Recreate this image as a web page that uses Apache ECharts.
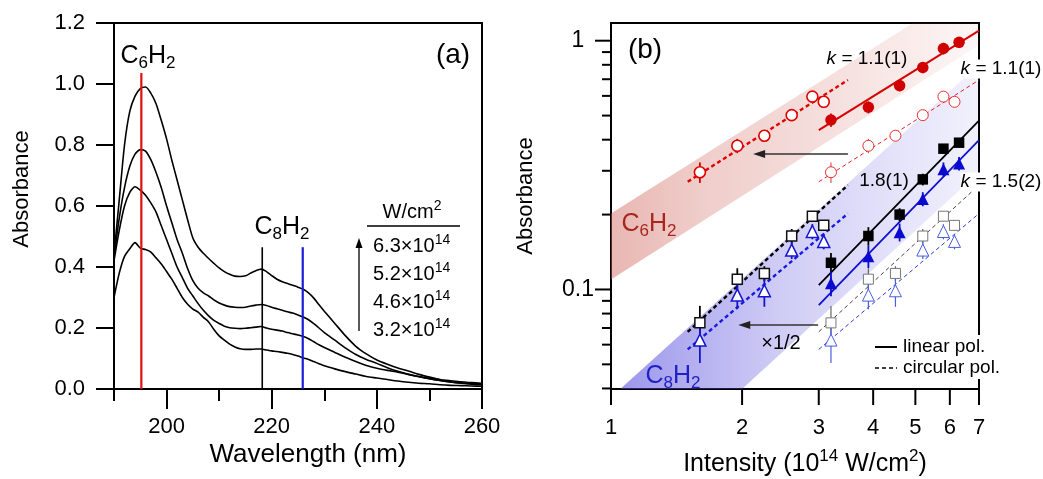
<!DOCTYPE html>
<html>
<head>
<meta charset="utf-8">
<title>Absorbance spectra and intensity dependence</title>
<script src="https://cdn.jsdelivr.net/npm/echarts@6.0.0/dist/echarts.min.js"></script>
<style>
  html, body { margin: 0; padding: 0; background: #fff; }
  #chart { width: 1043px; height: 479px; }
</style>
</head>
<body>
<div id="chart"></div>
<script>
const FONT = "Liberation Sans";

// ---- panel (a): absorption spectra ----
const wavelengths = [190, 191, 192, 193, 194, 195, 196, 197, 198, 199, 200, 201, 202, 203, 204, 205, 206, 207, 208, 209,
  210, 211, 212, 213, 214, 215, 216, 217, 218, 219, 220, 221, 222, 223, 224, 225, 226, 227, 228, 229, 230,
  232, 234, 236, 238, 240, 242, 244, 246, 248, 250, 252, 254, 256, 258, 260];
const absorb63 = [0.44, 0.62, 0.80, 0.91, 0.96, 0.985, 0.99, 0.97, 0.935, 0.88, 0.82, 0.75, 0.685, 0.62, 0.555, 0.495, 0.465, 0.445, 0.428, 0.412,
  0.397, 0.385, 0.376, 0.370, 0.369, 0.371, 0.380, 0.388, 0.393, 0.385, 0.372, 0.360, 0.352, 0.346, 0.340, 0.334, 0.327, 0.315, 0.298, 0.276, 0.255,
  0.215, 0.175, 0.14, 0.115, 0.095, 0.081, 0.069, 0.059, 0.048, 0.039, 0.031, 0.027, 0.024, 0.021, 0.019];
const absorb52 = [0.43, 0.56, 0.66, 0.73, 0.77, 0.785, 0.78, 0.752, 0.71, 0.66, 0.60, 0.545, 0.49, 0.445, 0.395, 0.355, 0.33, 0.315, 0.305, 0.292,
  0.282, 0.275, 0.270, 0.268, 0.267, 0.268, 0.272, 0.275, 0.277, 0.274, 0.268, 0.263, 0.258, 0.253, 0.249, 0.243, 0.236, 0.227, 0.214, 0.200, 0.185,
  0.16, 0.135, 0.113, 0.097, 0.084, 0.07, 0.058, 0.048, 0.04, 0.034, 0.028, 0.023, 0.020, 0.018, 0.016];
const absorb46 = [0.42, 0.52, 0.60, 0.645, 0.663, 0.652, 0.635, 0.61, 0.58, 0.535, 0.49, 0.445, 0.40, 0.365, 0.33, 0.305, 0.28, 0.258, 0.24, 0.225,
  0.215, 0.206, 0.201, 0.199, 0.198, 0.199, 0.201, 0.203, 0.205, 0.200, 0.196, 0.193, 0.190, 0.185, 0.181, 0.177, 0.172, 0.165, 0.155, 0.145, 0.136,
  0.12, 0.104, 0.09, 0.077, 0.068, 0.061, 0.055, 0.048, 0.041, 0.034, 0.028, 0.023, 0.019, 0.016, 0.014];
const absorb32 = [0.30, 0.38, 0.435, 0.46, 0.48, 0.462, 0.457, 0.449, 0.43, 0.41, 0.385, 0.36, 0.33, 0.30, 0.278, 0.262, 0.252, 0.235, 0.22, 0.195,
  0.174, 0.16, 0.147, 0.138, 0.132, 0.13, 0.13, 0.131, 0.131, 0.128, 0.125, 0.123, 0.12, 0.117, 0.113, 0.108, 0.102, 0.097, 0.09, 0.083, 0.076,
  0.066, 0.057, 0.049, 0.041, 0.036, 0.031, 0.026, 0.022, 0.019, 0.017, 0.014, 0.012, 0.011, 0.010, 0.009];
const intensityLabels = ["6.3", "5.2", "4.6", "3.2"];
const xMajorA = [200, 220, 240, 260];
const xMinorA = [190, 210, 230, 250];
// band positions marked in the spectra
const peakWl = [195.2, 218.2, 225.9];
const peakTop = [1.036, 0.465, 0.465];
const peakColors = ["#e01010", "#000000", "#1c1cd8"];

// ---- panel (b): intensity dependence (log-log) ----
const linIntensity = [3.2, 3.9, 4.6, 5.2, 5.8, 6.3];
const circIntensity = [3.2, 3.9, 4.5, 5.2, 5.8, 6.15];
const circIntensityHalf = [1.6, 1.95, 2.25, 2.6, 2.9, 3.08];
const c6Linear = [0.48, 0.54, 0.66, 0.78, 0.93, 0.985];
const c6LinearErr = [0.03, 0.03, 0.035, 0.04, 0.05, 0.05];
const c6Circular = [0.296, 0.378, 0.415, 0.502, 0.596, 0.568];
const c6CircularErr = [0.028, 0.025, 0.02, 0.016, 0.015, 0.015];
const c8LinearSq = [0.128, 0.164, 0.200, 0.277, 0.368, 0.389];
const c8LinearSqErr = [0.012, 0.014, 0.012, 0.015, 0.015, 0.015];
const c8LinearTri = [0.106, 0.136, 0.170, 0.231, 0.304, 0.321];
const c8LinearTriErr = [0.012, 0.014, 0.014, 0.015, 0.02, 0.02];
const c8CircularSq = [0.0734, 0.110, 0.116, 0.164, 0.197, 0.181];
const c8CircularSqErr = [0.0125, 0.0117, 0.008, 0.011, 0.0093, 0.0085];
const c8CircularTri = [0.0626, 0.0949, 0.0988, 0.144, 0.171, 0.156];
const c8CircularTriErr = [0.012, 0.0116, 0.0136, 0.0115, 0.012, 0.011];

// fitted power laws, end points [intensity, absorbance]
const fitC6Lin = [[3.0, 0.437], [7.0, 1.097]];
const fitC6Circ = [[3.0, 0.271], [7.0, 0.695]];
const fitC6CircHalf = [[1.5, 0.271], [3.5, 0.695]];
const fitC8LinSq = [[3.0, 0.104], [7.0, 0.477]];
const fitC8LinTri = [[3.0, 0.0865], [7.0, 0.3985]];
const fitC8CircSq = [[3.0, 0.0676], [7.0, 0.2627]];
const fitC8CircTri = [[3.0, 0.0574], [7.0, 0.202]];
const fitC8CircSqHalf = [[1.5, 0.0676], [3.5, 0.2627]];
const fitC8CircTriHalf = [[1.5, 0.0574], [3.5, 0.202]];

// shaded guide bands (polygon corners)
const bandC6 = [[1, 0.202], [4.94, 1.178], [7, 1.178], [7, 0.96], [1, 0.1097]];
const bandC8 = [[1.05, 0.0398], [7, 0.80], [7, 0.295], [2.0, 0.0398]];

// x1/2 shift arrows: [from, y, to]
const shiftArrows = [[3.5, 0.35, 2.12], [2.99, 0.0719, 1.96]];

const xMinB = 1, xMaxB = 7;
const yMinB = 0.0398, yMaxB = 1.178;
const xTicksB = [1, 2, 3, 4, 5, 6, 7];
const yMajorB = [0.1, 1];
const yMajorLabelsB = ["0.1", "1"];
const yMinorB = [0.04, 0.05, 0.06, 0.07, 0.08, 0.09, 0.2, 0.3, 0.4, 0.5, 0.6, 0.7, 0.8, 0.9];

const zip = (xs, ys) => xs.map((x, i) => [x, ys[i]]);

// ---- series helpers ----
const spectrum = (ys) => ({
  type: "line", xAxisIndex: 0, yAxisIndex: 0, data: zip(wavelengths, ys),
  symbol: "none", smooth: 0.25, silent: true,
  lineStyle: { color: "#000", width: 1.6 },
});

const bandSeries = (points, rgb, alphas) => ({
  type: "custom", xAxisIndex: 2, yAxisIndex: 1, z: 1, silent: true, data: points,
  renderItem: (params, api) => {
    if (params.dataIndex !== 0) return null;
    const pts = points.map((p) => api.coord(p));
    return {
      type: "polygon", shape: { points: pts },
      style: {
        fill: new echarts.graphic.LinearGradient(0, 0, 1, 0,
          alphas.map((a) => ({ offset: a[0], color: `rgba(${rgb},${a[1]})` }))),
      },
    };
  },
});

const fitSeries = (pts, color, width, dashed) => ({
  type: "line", xAxisIndex: 2, yAxisIndex: 1, z: 2, data: pts, symbol: "none", silent: true,
  lineStyle: { color: color, width: width, type: dashed ? [4, 3] : "solid" },
});

const errorSeries = (xs, ys, errs, color, width) => ({
  type: "custom", xAxisIndex: 2, yAxisIndex: 1, z: 3, silent: true,
  data: xs.map((x, i) => [x, ys[i], errs[i]]),
  renderItem: (params, api) => {
    const x = api.value(0), y = api.value(1), e = api.value(2);
    const lo = api.coord([x, y - e]);
    const hi = api.coord([x, y + e]);
    return { type: "line", shape: { x1: lo[0], y1: lo[1], x2: hi[0], y2: hi[1] }, style: { stroke: color, lineWidth: width } };
  },
});

const markerSeries = (xs, ys, symbol, size, fill, stroke, bw) => ({
  type: "scatter", xAxisIndex: 2, yAxisIndex: 1, z: 4, silent: true,
  data: zip(xs, ys), symbol: symbol, symbolSize: size,
  itemStyle: { color: fill, borderColor: stroke, borderWidth: bw, opacity: 1 },
});

// tick marks + labels of the log axes (drawn through the axis scales)
const tickStyle = { stroke: "#000", lineWidth: 2 };
const xTickSeries = {
  type: "custom", xAxisIndex: 2, yAxisIndex: 1, z: 5, silent: true, clip: false,
  data: xTicksB.map((v) => [v, yMinB]),
  renderItem: (params, api) => {
    const p = api.coord([api.value(0), yMinB]);
    return {
      type: "group", children: [
        { type: "line", shape: { x1: p[0], y1: p[1], x2: p[0], y2: p[1] + 16 }, style: tickStyle },
        { type: "text", x: p[0], y: p[1] + 39, style: { text: String(api.value(0)), fill: "#000", fontSize: 22, fontFamily: FONT, align: "center", verticalAlign: "middle" } },
      ],
    };
  },
};
const yMajorSeries = {
  type: "custom", xAxisIndex: 2, yAxisIndex: 1, z: 5, silent: true, clip: false,
  data: yMajorB.map((v) => [xMinB, v]),
  renderItem: (params, api) => {
    const p = api.coord([xMinB, api.value(1)]);
    return {
      type: "group", children: [
        { type: "line", shape: { x1: p[0] - 16, y1: p[1], x2: p[0], y2: p[1] }, style: tickStyle },
        { type: "text", x: p[0] - 33, y: p[1], style: { text: yMajorLabelsB[params.dataIndex], fill: "#000", fontSize: 23, fontFamily: FONT, align: "center", verticalAlign: "middle" } },
      ],
    };
  },
};
const yMinorSeries = {
  type: "custom", xAxisIndex: 2, yAxisIndex: 1, z: 5, silent: true, clip: false,
  data: yMinorB.map((v) => [xMinB, v]),
  renderItem: (params, api) => {
    const p = api.coord([xMinB, api.value(1)]);
    return { type: "line", shape: { x1: p[0] - 9, y1: p[1], x2: p[0], y2: p[1] }, style: tickStyle };
  },
};

const arrowSeries = {
  type: "custom", xAxisIndex: 2, yAxisIndex: 1, z: 4, silent: true,
  data: shiftArrows,
  renderItem: (params, api) => {
    const a = api.coord([api.value(0), api.value(1)]);
    const b = api.coord([api.value(2), api.value(1)]);
    return {
      type: "group", children: [
        { type: "line", shape: { x1: a[0], y1: a[1], x2: b[0] + 8, y2: b[1] }, style: { stroke: "#333", lineWidth: 1.5 } },
        { type: "polygon", shape: { points: [[b[0], b[1]], [b[0] + 12, b[1] - 4], [b[0] + 12, b[1] + 4]] }, style: { fill: "#222" } },
      ],
    };
  },
};

const series = [
  spectrum(absorb63), spectrum(absorb52), spectrum(absorb46), spectrum(absorb32),
];
peakWl.forEach((w, i) => {
  series.push({
    type: "line", xAxisIndex: 0, yAxisIndex: 0, data: [[w, 0], [w, peakTop[i]]], symbol: "none", silent: true, z: 3,
    lineStyle: { color: peakColors[i], width: i === 1 ? 1.6 : 2.2 },
  });
});

series.push(
  bandSeries(bandC6, "205,95,85", [[0, 0.45], [0.25, 0.31], [0.65, 0.18], [1, 0.05]]),
  bandSeries(bandC8, "80,70,220", [[0, 0.56], [0.45, 0.27], [0.8, 0.14], [1, 0.08]]),

  fitSeries(fitC6Lin, "#d80000", 2, false),
  fitSeries(fitC6Circ, "#e02020", 1, true),
  fitSeries(fitC6CircHalf, "#e00000", 2.4, true),
  fitSeries(fitC8LinSq, "#000", 1.8, false),
  fitSeries(fitC8LinTri, "#1010d0", 1.8, false),
  fitSeries(fitC8CircSq, "#444", 1, true),
  fitSeries(fitC8CircTri, "#2a3ae0", 1, true),
  fitSeries(fitC8CircSqHalf, "#000", 2.4, true),
  fitSeries(fitC8CircTriHalf, "#1a1ae0", 2.4, true),

  errorSeries(linIntensity, c6Linear, c6LinearErr, "#b00000", 1.5),
  errorSeries(circIntensity, c6Circular, c6CircularErr, "#e03030", 1),
  errorSeries(circIntensityHalf, c6Circular, c6CircularErr, "#d00000", 1.8),
  errorSeries(linIntensity, c8LinearSq, c8LinearSqErr, "#000", 1.8),
  errorSeries(linIntensity, c8LinearTri, c8LinearTriErr, "#0a0ad0", 1.8),
  errorSeries(circIntensity, c8CircularSq, c8CircularSqErr, "#666", 1.2),
  errorSeries(circIntensity, c8CircularTri, c8CircularTriErr, "#4a5ee0", 1.2),
  errorSeries(circIntensityHalf, c8CircularSq, c8CircularSqErr, "#000", 1.8),
  errorSeries(circIntensityHalf, c8CircularTri, c8CircularTriErr, "#1515d0", 1.8),

  markerSeries(circIntensity, c6Circular, "circle", 11, "#fff", "#e83030", 1),
  markerSeries(circIntensityHalf, c6Circular, "circle", 11, "#fff", "#e00000", 1.6),
  markerSeries(linIntensity, c6Linear, "circle", 11.5, "#d00000", "#d00000", 0),
  markerSeries(circIntensity, c8CircularSq, "rect", 10, "#fff", "#777", 1),
  markerSeries(circIntensity, c8CircularTri, "triangle", 12, "#fff", "#4a5ee0", 1),
  markerSeries(circIntensityHalf, c8CircularSq, "rect", 10, "#fff", "#111", 1.5),
  markerSeries(circIntensityHalf, c8CircularTri, "triangle", 12, "#fff", "#1515d0", 1.5),
  markerSeries(linIntensity, c8LinearSq, "rect", 10.5, "#000", "#000", 0),
  markerSeries(linIntensity, c8LinearTri, "triangle", 12, "#0a0ad0", "#0a0ad0", 0),

  arrowSeries, xTickSeries, yMajorSeries, yMinorSeries
);

// ---- texts and small legend pieces ----
const txt = (x, y, text, size, extra) => ({
  type: "text", x: x, y: y, z: 10, silent: true,
  style: Object.assign({ text: text, fill: "#000", fontSize: size, fontFamily: FONT, align: "center", verticalAlign: "middle" }, extra || {}),
});
// C_nH_2 with real subscripts
const chem = (x, y, n, color) => txt(x, y, `{m|C}{s|${n}}{m|H}{s|2}`, 25, {
  fill: color,
  rich: {
    m: { fontSize: 25, lineHeight: 31, fontFamily: FONT },
    s: { fontSize: 17, verticalAlign: "bottom", fontFamily: FONT },
  },
});
const supRich = (size, supSize, lh) => ({
  m: { fontSize: size, lineHeight: lh, fontFamily: FONT },
  p: { fontSize: supSize, verticalAlign: "top", fontFamily: FONT },
});
const kRich = { i: { fontStyle: "italic", fontSize: 19, fontFamily: FONT } };

const graphics = [
  // panel (a)
  Object.assign(txt(22, 189, "Absorbance", 22), { rotation: Math.PI / 2 }),
  txt(308, 455, "Wavelength (nm)", 26),
  txt(453, 55, "(a)", 28),
  chem(148, 56, 6, "#000"),
  chem(282, 227, 8, "#000"),
  txt(412, 212, "{m|W/cm}{p|2}", 20, { rich: supRich(20, 14, 26) }),
  { type: "line", z: 10, silent: true, shape: { x1: 367, y1: 226, x2: 460, y2: 226 }, style: { stroke: "#000", lineWidth: 1.5 } },
  { type: "line", z: 10, silent: true, shape: { x1: 359, y1: 331, x2: 359, y2: 246 }, style: { stroke: "#000", lineWidth: 1.3 } },
  { type: "polygon", z: 10, silent: true, shape: { points: [[359, 238], [355.5, 248], [362.5, 248]] }, style: { fill: "#000" } },
  // panel (b)
  Object.assign(txt(526, 196, "Absorbance", 22), { rotation: Math.PI / 2 }),
  txt(805, 464, "{m|Intensity (10}{p|14}{m| W/cm}{p|2}{m|)}", 25, { rich: supRich(25, 17, 32) }),
  txt(645, 50, "(b)", 28),
  chem(649, 224, 6, "#a8261c"),
  chem(673, 376, 8, "#2020c4"),
  txt(781, 343, "×1/2", 20),
  txt(867, 59, "{i|k} = 1.1(1)", 19, { rich: kRich }),
  txt(1001, 69, "{i|k} = 1.1(1)", 19, { rich: kRich, backgroundColor: "#fff" }),
  txt(884, 181, "1.8(1)", 19),
  txt(1001, 182, "{i|k} = 1.5(2)", 19, { rich: kRich, backgroundColor: "#fff" }),
  { type: "rect", z: 9, silent: true, shape: { x: 870, y: 335, width: 140, height: 44 }, style: { fill: "#fff" } },
  { type: "line", z: 10, silent: true, shape: { x1: 875, y1: 347, x2: 897, y2: 347 }, style: { stroke: "#000", lineWidth: 2 } },
  { type: "line", z: 10, silent: true, shape: { x1: 875, y1: 368, x2: 897, y2: 368 }, style: { stroke: "#000", lineWidth: 1.5, lineDash: [4, 3] } },
  txt(903, 347, "linear pol.", 19, { align: "left" }),
  txt(903, 368, "circular pol.", 19, { align: "left" }),
];
intensityLabels.forEach((label, i) => {
  graphics.push(txt(373, 246 + i * 28, `{m|${label}×10}{p|14}`, 20, { align: "left", rich: supRich(20, 14, 26) }));
});

const axisLine = { show: true, lineStyle: { color: "#000", width: 2 } };
const labelFont = { color: "#000", fontSize: 22, fontFamily: FONT };

const option = {
  animation: false,
  backgroundColor: "#fff",
  textStyle: { fontFamily: FONT },
  grid: [
    { left: 114, top: 23, width: 368, height: 366, show: true, borderColor: "#000", borderWidth: 2, backgroundColor: "transparent" },
    { left: 611, top: 23, width: 368, height: 366, show: true, borderColor: "#000", borderWidth: 2, backgroundColor: "transparent" },
  ],
  xAxis: [
    {
      gridIndex: 0, type: "value", position: "bottom", min: 190, max: 260,
      axisLine: axisLine, splitLine: { show: false },
      axisTick: { show: true, inside: false, customValues: xMajorA, length: 20, lineStyle: { color: "#000", width: 2 } },
      axisLabel: Object.assign({ customValues: xMajorA, margin: 27 }, labelFont),
    },
    {
      gridIndex: 0, type: "value", position: "bottom", min: 190, max: 260,
      axisLine: { show: false }, splitLine: { show: false }, axisLabel: { show: false },
      axisTick: { show: true, inside: false, customValues: xMinorA, length: 12, lineStyle: { color: "#000", width: 2 } },
    },
    {
      gridIndex: 1, type: "log", logBase: 10, position: "bottom", min: xMinB, max: xMaxB,
      axisLine: axisLine, splitLine: { show: false }, axisTick: { show: false }, axisLabel: { show: false },
    },
  ],
  yAxis: [
    {
      gridIndex: 0, type: "value", position: "left", min: 0, max: 1.2, interval: 0.2,
      axisLine: axisLine, splitLine: { show: false },
      axisTick: { show: true, inside: false, length: 18, lineStyle: { color: "#000", width: 2 } },
      axisLabel: Object.assign({ margin: 29, formatter: (v) => v.toFixed(1) }, labelFont),
    },
    {
      gridIndex: 1, type: "log", logBase: 10, position: "left", min: yMinB, max: yMaxB,
      axisLine: axisLine, splitLine: { show: false }, axisTick: { show: false }, axisLabel: { show: false },
    },
  ],
  graphic: { elements: graphics },
  series: series,
};

const chart = echarts.init(document.getElementById("chart"));
chart.setOption(option);
</script>
</body>
</html>
